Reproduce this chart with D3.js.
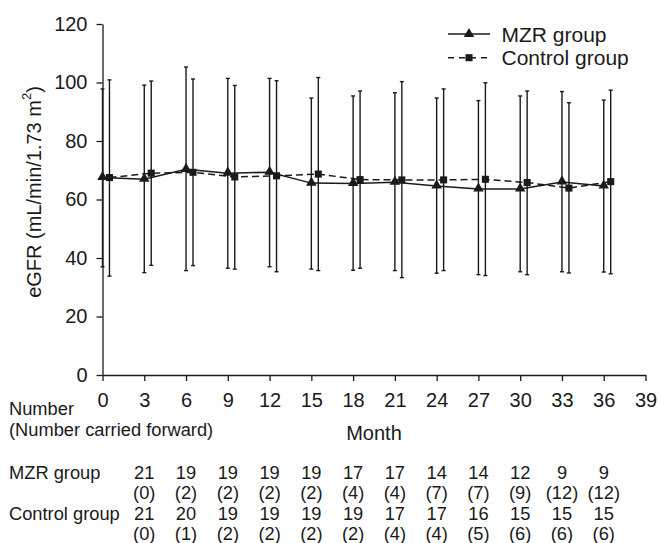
<!DOCTYPE html>
<html>
<head>
<meta charset="utf-8">
<script src="https://cdn.jsdelivr.net/npm/d3@7"></script>
<style>
  body { margin: 0; background: #fff; }
  svg { display: block; }
  text { font-family: "Liberation Sans", Arial, Helvetica, sans-serif; fill: #1a1a1a; }
</style>
</head>
<body>
<div id="chart"></div>
<script>
// ---- data ----
const months = [0, 3, 6, 9, 12, 15, 18, 21, 24, 27, 30, 33, 36];
const mzrMean  = [67.5, 66.9, 70.3, 69.0, 69.3, 65.6, 65.5, 65.9, 64.6, 63.6, 63.6, 66.0, 64.6];
const mzrUpper = [97.8, 99.1, 105.3, 101.4, 101.4, 94.7, 95.4, 96.5, 94.7, 93.8, 95.4, 96.9, 94.0];
const mzrLower = [37.0, 35.0, 35.7, 36.5, 37.0, 36.2, 35.8, 35.7, 34.8, 34.3, 35.3, 35.3, 35.2];
const ctlMean  = [67.5, 69.0, 69.3, 67.7, 68.1, 68.7, 66.8, 66.7, 66.7, 66.9, 65.8, 63.9, 66.1];
const ctlUpper = [100.9, 100.5, 101.2, 99.0, 100.6, 101.7, 97.1, 100.3, 97.8, 99.9, 97.1, 93.1, 97.4];
const ctlLower = [33.8, 37.5, 37.4, 36.2, 35.3, 35.7, 36.5, 33.3, 35.7, 34.0, 34.3, 34.9, 34.6];
const xTicks = [0, 3, 6, 9, 12, 15, 18, 21, 24, 27, 30, 33, 36, 39];
const yTicks = [0, 20, 40, 60, 80, 100, 120];
const tableMonths = [3, 6, 9, 12, 15, 18, 21, 24, 27, 30, 33, 36];
const mzrNumber = [21, 19, 19, 19, 19, 17, 17, 14, 14, 12, 9, 9];
const mzrCarried = [0, 2, 2, 2, 2, 4, 4, 7, 7, 9, 12, 12];
const ctlNumber = [21, 20, 19, 19, 19, 19, 17, 17, 16, 15, 15, 15];
const ctlCarried = [0, 1, 2, 2, 2, 2, 4, 4, 5, 6, 6, 6];
const seriesNames = ["MZR group", "Control group"];
const ctlOffset = 0.5; // control points drawn slightly right of the month

// ---- layout ----
const W = 660, H = 543;
const svg = d3.select("#chart").append("svg").attr("width", W).attr("height", H);
const x = d3.scaleLinear().domain([0, 39]).range([102.5, 645.5]);
const y = d3.scaleLinear().domain([0, 120]).range([375, 24]);
const ink = "#1a1a1a";

// axes
const yAxis = svg.append("g").attr("transform", `translate(${x(0)},0)`)
  .call(d3.axisLeft(y).tickValues(yTicks).tickSize(6).tickPadding(9).tickSizeOuter(0));
const xAxis = svg.append("g").attr("transform", `translate(0,${y(0)})`)
  .call(d3.axisBottom(x).tickValues(xTicks).tickSize(6).tickPadding(12).tickSizeOuter(0));
[yAxis, xAxis].forEach(g => {
  g.select(".domain").attr("stroke", ink).attr("stroke-width", 1.3);
  g.selectAll(".tick line").attr("stroke", ink).attr("stroke-width", 1.3);
  g.selectAll(".tick text").attr("font-size", 20).attr("fill", ink)
    .style("font-family", '"Liberation Sans", Arial, sans-serif');
});

// y axis title
const yt = svg.append("text")
  .attr("transform", `translate(40.5,192) rotate(-90)`)
  .attr("text-anchor", "middle").attr("font-size", 20);
yt.append("tspan").text("eGFR (mL/min/1.73 m");
yt.append("tspan").text("2").attr("font-size", 13).attr("dy", -10);
yt.append("tspan").text(")").attr("dy", 10);

// series
const series = [
  { name: seriesNames[0], mean: mzrMean, up: mzrUpper, lo: mzrLower, off: 0, dash: null, shape: "tri" },
  { name: seriesNames[1], mean: ctlMean, up: ctlUpper, lo: ctlLower, off: ctlOffset, dash: "7,4", shape: "sq" }
];
const triSym = d3.symbol().type(d3.symbolTriangle).size(48);
const sqSym = d3.symbol().type(d3.symbolSquare).size(50);

series.forEach(s => {
  const pts = months.map((m, i) => ({ m: m + s.off, v: s.mean[i], u: s.up[i], l: s.lo[i] }));
  const g = svg.append("g");
  // error bars
  g.selectAll("line.err").data(pts).join("line")
    .attr("x1", d => x(d.m)).attr("x2", d => x(d.m))
    .attr("y1", d => y(d.u)).attr("y2", d => y(d.l))
    .attr("stroke", ink).attr("stroke-width", 1.4);
  g.selectAll("line.capu").data(pts).join("line")
    .attr("x1", d => x(d.m) - 2).attr("x2", d => x(d.m) + 2)
    .attr("y1", d => y(d.u)).attr("y2", d => y(d.u))
    .attr("stroke", ink).attr("stroke-width", 1.4);
  g.selectAll("line.capl").data(pts).join("line")
    .attr("x1", d => x(d.m) - 2).attr("x2", d => x(d.m) + 2)
    .attr("y1", d => y(d.l)).attr("y2", d => y(d.l))
    .attr("stroke", ink).attr("stroke-width", 1.4);
  // mean line
  g.append("path").datum(pts)
    .attr("d", d3.line().x(d => x(d.m)).y(d => y(d.v)))
    .attr("fill", "none").attr("stroke", ink).attr("stroke-width", 1.5)
    .attr("stroke-dasharray", s.dash);
  // markers
  g.selectAll("path.mk").data(pts).join("path")
    .attr("d", s.shape === "tri" ? triSym : sqSym)
    .attr("transform", d => `translate(${x(d.m)},${y(d.v) + (s.shape === "tri" ? -0.5 : 0)})`)
    .attr("fill", ink);
});

// legend
const leg = svg.append("g");
series.forEach((s, i) => {
  const ly = 34 + i * 23.7;
  leg.append("line").attr("x1", 448).attr("x2", 490).attr("y1", ly).attr("y2", ly)
    .attr("stroke", ink).attr("stroke-width", 1.5).attr("stroke-dasharray", s.dash ? "6,5" : null);
  leg.append("path").attr("d", s.shape === "tri" ? triSym : sqSym)
    .attr("transform", `translate(469,${ly})`).attr("fill", ink);
  leg.append("text").attr("x", 501.5).attr("y", ly + 7.5).attr("font-size", 21).text(s.name);
});

// table below
const fs = 18.3;
svg.append("text").attr("x", 9).attr("y", 414.5).attr("font-size", fs).text("Number");
svg.append("text").attr("x", 9).attr("y", 435.5).attr("font-size", fs).text("(Number carried forward)");
svg.append("text").attr("x", (x(0) + x(39)) / 2).attr("y", 440).attr("font-size", 20)
  .attr("text-anchor", "middle").text("Month");

const rows = [
  { label: seriesNames[0], n: mzrNumber, c: mzrCarried, y: 478.5 },
  { label: seriesNames[1], n: ctlNumber, c: ctlCarried, y: 519.5 }
];
rows.forEach(r => {
  svg.append("text").attr("x", 9).attr("y", r.y).attr("font-size", fs).text(r.label);
  svg.append("g").selectAll("text").data(tableMonths).join("text")
    .attr("x", m => x(m)).attr("y", r.y).attr("text-anchor", "middle")
    .attr("font-size", fs).text((m, i) => r.n[i]);
  svg.append("g").selectAll("text").data(tableMonths).join("text")
    .attr("x", m => x(m)).attr("y", r.y + 20.7).attr("text-anchor", "middle")
    .attr("font-size", fs).text((m, i) => `(${r.c[i]})`);
});
</script>
</body>
</html>
